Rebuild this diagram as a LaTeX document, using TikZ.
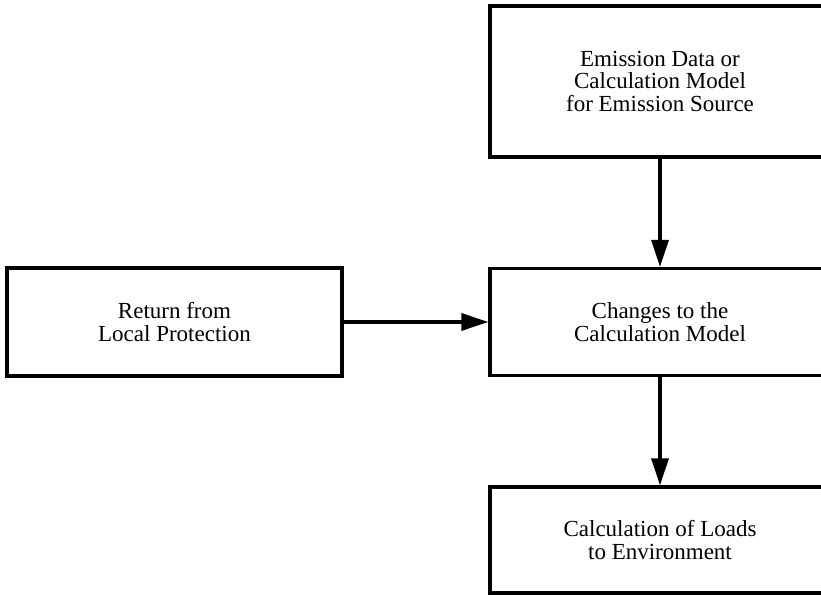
\documentclass[tikz,border=0pt]{standalone}
\usepackage{fontspec}
\setmainfont{Liberation Serif}
\usetikzlibrary{arrows.meta}
\begin{document}
\begin{tikzpicture}[x=1pt,y=1pt,
  box/.style={draw=black, line width=3.2pt, rectangle, align=center,
    font=\fontsize{23}{22.5}\selectfont, inner sep=0pt},
  flow/.style={line width=3.2pt, -{Triangle[length=27pt,width=17pt]}}]
\useasboundingbox (0,0) rectangle (821,594);
\clip (0,0) rectangle (821,594);
% process boxes
\node[box, minimum width=340pt, minimum height=151pt] (src) at (660,512.5)
  {Emission Data or\\Calculation Model\\for Emission Source};
\node[box, minimum width=340pt, minimum height=107pt] (chg) at (660,272)
  {Changes to the\\Calculation Model};
\node[box, minimum width=335pt, minimum height=108pt] (ret) at (174.5,272)
  {Return from\\Local Protection};
\node[box, minimum width=340pt, minimum height=106pt] (load) at (660,54)
  {Calculation of Loads\\to Environment};
% connectors
\draw[flow] (src) -- (chg);
\draw[flow] (ret) -- (chg);
\draw[flow] (chg) -- (load);
\end{tikzpicture}
\end{document}
